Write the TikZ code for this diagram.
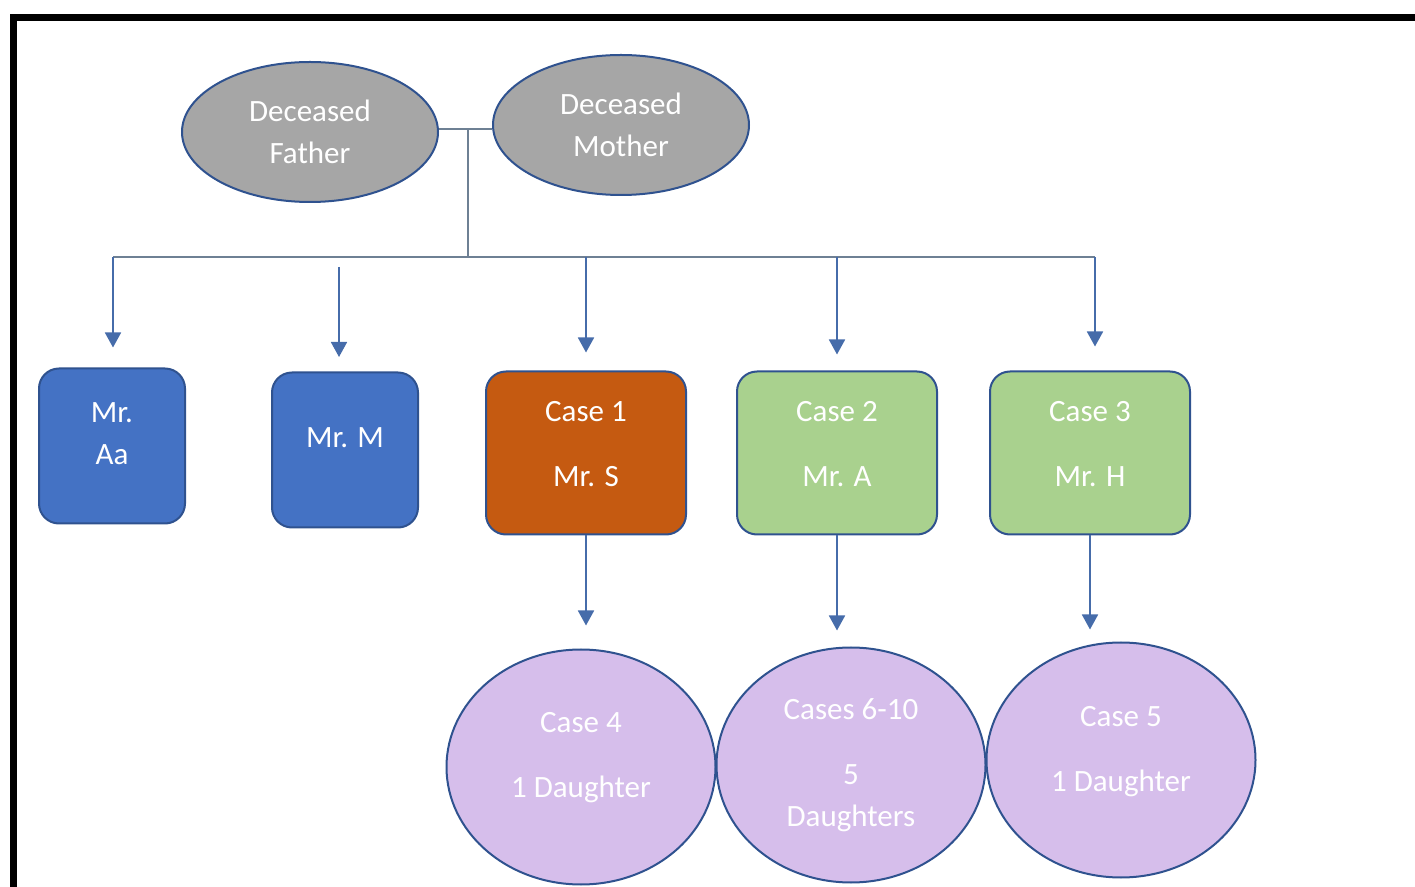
\documentclass[tikz,border=0pt]{standalone}
\usepackage{fontspec}
\setmainfont{Carlito}
\usetikzlibrary{shapes.geometric,arrows.meta}

\definecolor{edgeblue}{RGB}{47,82,143}
\definecolor{greyfill}{RGB}{166,166,166}
\definecolor{sonblue}{RGB}{68,114,196}
\definecolor{caseorange}{RGB}{197,90,17}
\definecolor{casegreen}{RGB}{169,209,142}
\definecolor{girlpurple}{RGB}{214,190,235}
\definecolor{linegrey}{RGB}{110,128,148}
\definecolor{arrowblue}{RGB}{70,108,170}
\newcommand\boxfont{\fontsize{15.5}{21}\selectfont}

\begin{document}
\begin{tikzpicture}[x=0.5pt,y=-0.5pt,
    parent/.style={ellipse,draw=edgeblue,line width=1pt,fill=greyfill,text=white,
        minimum width=128pt,minimum height=70pt,inner sep=0pt,align=center,font=\boxfont},
    son/.style={rectangle,rounded corners=10pt,draw=edgeblue,line width=1pt,text=white,
        minimum width=73pt,minimum height=77.5pt,inner sep=0pt,align=center,font=\boxfont},
    casebox/.style={son,minimum width=100pt,minimum height=81.5pt},
    girls/.style={ellipse,draw=edgeblue,line width=1pt,fill=girlpurple,text=white,
        minimum width=134.5pt,minimum height=117.5pt,inner sep=0pt,align=center,font=\boxfont},
    famline/.style={draw=linegrey,line width=0.75pt},
    arr/.style={draw=arrowblue,line width=0.9pt,-{Triangle[width=8pt,length=7.5pt]}}]

    \useasboundingbox (0,0) rectangle (1415,887);

    % Frame (cut at right and bottom)
    \draw[line width=3.5pt] (13,887) -- (13,18) -- (1415,18);

    % Parents
    \node[parent] (father) at (310,132) {Deceased\\Father};
    \node[parent] (mother) at (621,125) {Deceased\\Mother};

    % Sons (the empty last line lifts the text a bit)
    \node[son,fill=sonblue] (aa) at (112,446) {Mr.\\Aa\\[-9pt]\mbox{}};
    \node[son,fill=sonblue] (mrm) at (345,450) {Mr. M\\[-9pt]\mbox{}};
    \node[casebox,fill=caseorange] (case1) at (586,453) {Case 1\\[11.5pt]Mr. S\\[-12pt]\mbox{}};
    \node[casebox,fill=casegreen] (case2) at (837,453) {Case 2\\[11.5pt]Mr. A\\[-12pt]\mbox{}};
    \node[casebox,fill=casegreen] (case3) at (1090,453) {Case 3\\[11.5pt]Mr. H\\[-12pt]\mbox{}};

    % Daughters
    \node[girls] (case4) at (581,767) {Case 4\\[11.5pt]1 Daughter\\[-9pt]\mbox{}};
    \node[girls] (sixten) at (851,765) {Cases 6-10\\[11.5pt]5\\Daughters};
    \node[girls] (case5) at (1121,760) {Case 5\\[11.5pt]1 Daughter\\[-10pt]\mbox{}};

    % Marriage line and bus
    \coordinate (join) at (468,129);
    \coordinate (busL) at (113,257);
    \coordinate (busM) at (468,257);
    \coordinate (busR) at (1095,257);
    \draw[famline] (join -| father.east) -- (join -| mother.west);
    \draw[famline] (join) -- (busM);
    \draw[famline] (busL) -- (busR);

    % Arrows down to the sons
    \draw[arr,shorten >=10pt] (busL) -- (busL |- aa.north);
    \draw[arr,shorten >=8pt] (339,267) -- (339,373);
    \draw[arr,shorten >=9pt] (case1.north |- busR) -- (case1.north);
    \draw[arr,shorten >=8pt] (case2.north |- busR) -- (case2.north);
    \draw[arr,shorten >=12pt] (busR) -- (busR |- case3.north);

    % Arrows down to the daughters
    \draw[arr,shorten >=11.5pt] (case1.south) -- (case1.south |- case4.north);
    \draw[arr,shorten >=8pt] (case2.south) -- (case2.south |- sixten.north);
    \draw[arr,shorten >=6pt] (case3.south) -- (case3.south |- case5.north);

\end{tikzpicture}
\end{document}
